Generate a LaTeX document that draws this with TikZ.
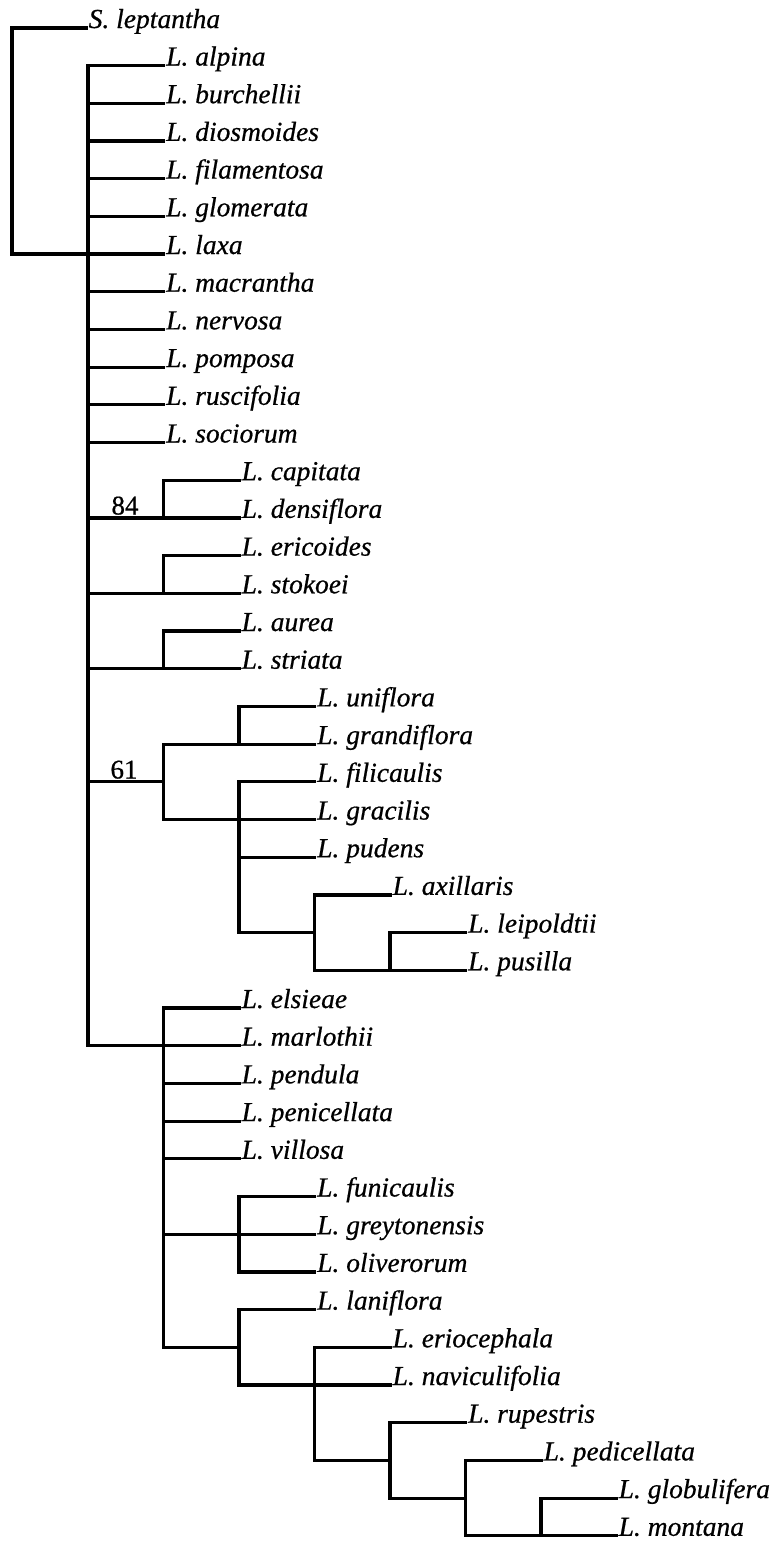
\documentclass[tikz,border=0pt]{standalone}
\usepackage{fontspec}
\setmainfont[FakeBold=0.6]{Liberation Serif}
\tikzset{
  leaf/.style={anchor=base west, inner xsep=2.5pt, inner ysep=0pt,
    font=\itshape\fontsize{27.5}{27.5}\selectfont},
  lab/.style={anchor=base, inner sep=0pt, font=\fontsize{27}{27}\selectfont},
  br/.style={line width=3.2pt, line cap=rect, line join=miter}
}
\begin{document}
\begin{tikzpicture}[x=1pt,y=-1pt]
\path[use as bounding box, fill=white] (0,0) rectangle (773,1542);
% ---- leaves ----
\node[leaf] (slep) at (86,28) {S. leptantha};
\node[leaf] (alpina) at (163.5,65.5) {L. alpina};
\node[leaf] (burchellii) at (163.5,103.2) {L. burchellii};
\node[leaf] (diosmoides) at (163.5,140.9) {L. diosmoides};
\node[leaf] (filamentosa) at (163.5,178.6) {L. filamentosa};
\node[leaf] (glomerata) at (163.5,216.3) {L. glomerata};
\node[leaf] (laxa) at (163.5,254.0) {L. laxa};
\node[leaf] (macrantha) at (163.5,291.7) {L. macrantha};
\node[leaf] (nervosa) at (163.5,329.4) {L. nervosa};
\node[leaf] (pomposa) at (163.5,367.1) {L. pomposa};
\node[leaf] (ruscifolia) at (163.5,404.8) {L. ruscifolia};
\node[leaf] (sociorum) at (163.5,442.5) {L. sociorum};
\node[leaf] (capitata) at (239,480.2) {L. capitata};
\node[leaf] (densiflora) at (239,517.9) {L. densiflora};
\node[leaf] (ericoides) at (239,555.6) {L. ericoides};
\node[leaf] (stokoei) at (239,593.3) {L. stokoei};
\node[leaf] (aurea) at (239,631.0) {L. aurea};
\node[leaf] (striata) at (239,668.7) {L. striata};
\node[leaf] (uniflora) at (314.5,706.4) {L. uniflora};
\node[leaf] (grandiflora) at (314.5,744.1) {L. grandiflora};
\node[leaf] (filicaulis) at (314.5,781.8) {L. filicaulis};
\node[leaf] (gracilis) at (314.5,819.5) {L. gracilis};
\node[leaf] (pudens) at (314.5,857.2) {L. pudens};
\node[leaf] (axillaris) at (390,894.9) {L. axillaris};
\node[leaf] (leipoldtii) at (465.5,932.6) {L. leipoldtii};
\node[leaf] (pusilla) at (465.5,970.3) {L. pusilla};
\node[leaf] (elsieae) at (239,1008.0) {L. elsieae};
\node[leaf] (marlothii) at (239,1045.7) {L. marlothii};
\node[leaf] (pendula) at (239,1083.4) {L. pendula};
\node[leaf] (penicellata) at (239,1121.1) {L. penicellata};
\node[leaf] (villosa) at (239,1158.8) {L. villosa};
\node[leaf] (funicaulis) at (314.5,1196.5) {L. funicaulis};
\node[leaf] (greytonensis) at (314.5,1234.2) {L. greytonensis};
\node[leaf] (oliverorum) at (314.5,1271.9) {L. oliverorum};
\node[leaf] (laniflora) at (314.5,1309.6) {L. laniflora};
\node[leaf] (eriocephala) at (390,1347.3) {L. eriocephala};
\node[leaf] (naviculifolia) at (390,1385.0) {L. naviculifolia};
\node[leaf] (rupestris) at (465.5,1422.7) {L. rupestris};
\node[leaf] (pedicellata) at (541,1460.4) {L. pedicellata};
\node[leaf] (globulifera) at (616,1498.1) {L. globulifera};
\node[leaf] (montana) at (616,1535.8) {L. montana};
% ---- support values ----
\node[lab] (l84) at (125,514.5) {84};
\node[lab] (l61) at (124,778.5) {61};
% ---- internal nodes ----
\coordinate (R) at (12,254.0);
\coordinate (M) at (88,1045.7);
\coordinate (C84) at (163.5,517.9);
\coordinate (CE) at (163.5,593.3);
\coordinate (CA) at (163.5,668.7);
\coordinate (C61) at (163.5,781.8);
\coordinate (U) at (239,744.1);
\coordinate (F) at (239,932.6);
\coordinate (AX) at (314.5,932.6);
\coordinate (AXb) at (314.5,970.3);
\coordinate (LP) at (390,970.3);
\coordinate (E) at (163.5,1347.3);
\coordinate (FU) at (239,1234.2);
\coordinate (FUb) at (239,1271.9);
\coordinate (LA) at (239,1347.3);
\coordinate (LAb) at (239,1385.0);
\coordinate (ERb) at (314.5,1460.4);
\coordinate (RUs) at (390,1460.4);
\coordinate (RUb) at (390,1498.1);
\coordinate (PEb) at (465.5,1535.8);
\coordinate (GLb) at (541,1535.8);
% ---- branches ----
\draw[br] (slep.base west) -| (R) -- (laxa.base west);
\draw[br] (alpina.base west) -| (M) -- (marlothii.base west);
\foreach \n in {burchellii,diosmoides,filamentosa,glomerata,macrantha,nervosa,pomposa,ruscifolia,sociorum}
  \draw[br] (\n.base west -| M) -- (\n.base west);
% 84 clade
\draw[br] (capitata.base west) -| (C84);
\draw[br] (C84 -| M) -- (densiflora.base west);
\draw[br] (ericoides.base west) -| (CE);
\draw[br] (CE -| M) -- (stokoei.base west);
\draw[br] (aurea.base west) -| (CA);
\draw[br] (CA -| M) -- (striata.base west);
% 61 clade
\draw[br] (C61 -| M) -- (C61);
\draw[br] (grandiflora.base west -| C61) -- (gracilis.base west -| C61);
\draw[br] (uniflora.base west) -| (U);
\draw[br] (grandiflora.base west -| C61) -- (grandiflora.base west);
\draw[br] (filicaulis.base west) -| (F);
\draw[br] (gracilis.base west -| C61) -- (gracilis.base west);
\draw[br] (pudens.base west -| F) -- (pudens.base west);
\draw[br] (F) -- (AX);
\draw[br] (axillaris.base west) -| (AXb) -- (pusilla.base west);
\draw[br] (leipoldtii.base west) -| (LP);
% second clade
\draw[br] (elsieae.base west) -| (E) -- (LA);
\foreach \n in {pendula,penicellata,villosa}
  \draw[br] (\n.base west -| E) -- (\n.base west);
\draw[br] (FU -| E) -- (greytonensis.base west);
\draw[br] (funicaulis.base west) -| (FUb) -- (oliverorum.base west);
\draw[br] (laniflora.base west) -| (LAb) -- (naviculifolia.base west);
\draw[br] (eriocephala.base west) -| (ERb) -- (RUs);
\draw[br] (rupestris.base west) -| (RUb) -- (globulifera.base west -| PEb);
\draw[br] (pedicellata.base west) -| (PEb) -- (montana.base west);
\draw[br] (globulifera.base west) -| (GLb);
\end{tikzpicture}
\end{document}
